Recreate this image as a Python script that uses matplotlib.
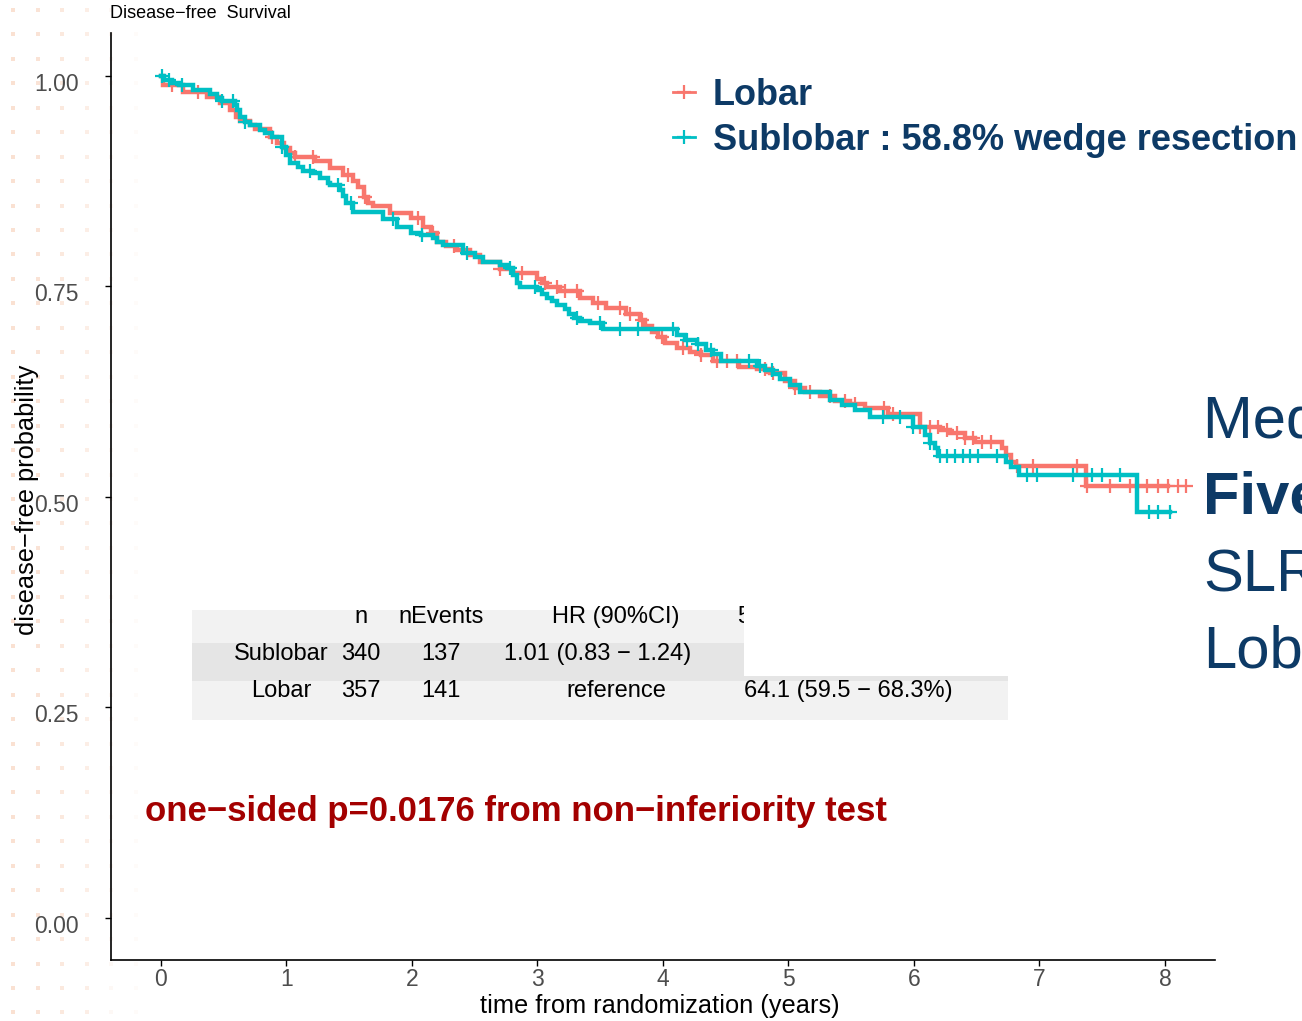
import numpy as np
import matplotlib.pyplot as plt
from matplotlib.lines import Line2D
from matplotlib.patches import Rectangle
from matplotlib.transforms import ScaledTranslation

plt.rcParams['font.family'] = ['Liberation Sans', 'DejaVu Sans']

# Kaplan-Meier steps: time (years) and survival after each drop
lobar_t = [0, 0.02, 0.18, 0.37, 0.47, 0.55, 0.60, 0.63, 0.71, 0.75, 0.87, 0.93, 0.98,
           1.03, 1.07, 1.23, 1.35, 1.45, 1.53, 1.57, 1.62, 1.65, 1.69, 1.83, 1.99,
           2.09, 2.15, 2.20, 2.27, 2.36, 2.46, 2.54, 2.70, 2.81, 3.00, 3.04, 3.08,
           3.18, 3.34, 3.44, 3.55, 3.71, 3.82, 3.86, 3.91, 3.96, 4.02, 4.11, 4.22,
           4.30, 4.40, 4.61, 4.75, 4.85, 4.97, 5.05, 5.13, 5.25, 5.37, 5.49, 5.61,
           5.79, 6.05, 6.21, 6.29, 6.41, 6.49, 6.70, 6.73, 6.77, 6.81, 7.37]
lobar_s = [1.0, 0.989, 0.981, 0.975, 0.968, 0.960, 0.951, 0.947, 0.942, 0.937, 0.928,
           0.920, 0.914, 0.909, 0.904, 0.899, 0.891, 0.882, 0.875, 0.868, 0.856, 0.849,
           0.846, 0.837, 0.831, 0.821, 0.813, 0.803, 0.798, 0.793, 0.787, 0.779, 0.771,
           0.766, 0.759, 0.754, 0.749, 0.745, 0.736, 0.730, 0.724, 0.717, 0.710, 0.703,
           0.696, 0.690, 0.683, 0.677, 0.672, 0.669, 0.662, 0.654, 0.652, 0.647, 0.638,
           0.629, 0.625, 0.620, 0.614, 0.610, 0.606, 0.599, 0.583, 0.580, 0.576, 0.570,
           0.565, 0.558, 0.550, 0.542, 0.537, 0.513]
lobar_cens = [0.09, 0.30, 0.89, 1.07, 1.21, 1.49, 1.63, 2.05, 2.17, 2.34, 2.70, 2.88,
              3.06, 3.16, 3.22, 3.32, 3.48, 3.66, 3.74, 3.83, 3.99, 4.16, 4.30, 4.43,
              4.51, 4.59, 4.81, 4.88, 5.05, 5.17, 5.33, 5.45, 5.53, 5.76, 5.83, 6.05,
              6.13, 6.19, 6.26, 6.34, 6.41, 6.47, 6.54, 6.61, 6.82, 6.95, 7.30, 7.38,
              7.56, 7.72, 7.86, 7.94, 8.02, 8.10, 8.17]
lobar_end = 8.02

sub_t = [0, 0.03, 0.09, 0.15, 0.26, 0.39, 0.45, 0.49, 0.59, 0.61, 0.63, 0.67, 0.71,
         0.79, 0.83, 0.89, 0.97, 1.00, 1.03, 1.09, 1.13, 1.21, 1.27, 1.33, 1.35, 1.43,
         1.45, 1.48, 1.53, 1.77, 1.88, 1.99, 2.07, 2.17, 2.20, 2.25, 2.41, 2.50, 2.57,
         2.70, 2.76, 2.81, 2.84, 2.86, 3.00, 3.04, 3.08, 3.12, 3.16, 3.22, 3.25, 3.29,
         3.34, 3.42, 3.52, 4.11, 4.18, 4.27, 4.34, 4.40, 4.46, 4.75, 4.81, 4.88, 4.93,
         5.01, 5.09, 5.33, 5.43, 5.53, 5.65, 5.99, 6.09, 6.13, 6.17, 6.19, 6.73, 6.77,
         6.84, 7.78]
sub_s = [1.0, 0.995, 0.992, 0.989, 0.983, 0.979, 0.974, 0.970, 0.966, 0.960, 0.951,
         0.945, 0.942, 0.936, 0.932, 0.928, 0.916, 0.906, 0.897, 0.892, 0.887, 0.885,
         0.879, 0.873, 0.871, 0.865, 0.857, 0.849, 0.838, 0.830, 0.821, 0.814, 0.811,
         0.808, 0.803, 0.799, 0.790, 0.785, 0.779, 0.776, 0.772, 0.764, 0.754, 0.749,
         0.746, 0.741, 0.736, 0.733, 0.728, 0.723, 0.717, 0.713, 0.709, 0.707, 0.700,
         0.692, 0.686, 0.682, 0.675, 0.670, 0.662, 0.656, 0.651, 0.646, 0.640, 0.633,
         0.625, 0.615, 0.609, 0.603, 0.595, 0.583, 0.574, 0.564, 0.558, 0.549, 0.542,
         0.536, 0.526, 0.482]
sub_cens = [0.01, 0.07, 0.17, 0.49, 0.58, 0.67, 0.97, 1.19, 1.41, 1.52, 1.85, 2.08,
            2.44, 2.78, 2.98, 3.32, 3.50, 3.66, 3.80, 4.08, 4.19, 4.28, 4.38, 4.69,
            4.77, 4.87, 5.75, 5.89, 5.99, 6.13, 6.21, 6.26, 6.33, 6.39, 6.45, 6.51,
            6.66, 6.90, 6.98, 7.27, 7.42, 7.50, 7.64, 7.87, 7.94, 8.04]
sub_end = 8.04

groups = ['Lobar', 'Sublobar : 58.8% wedge resection']
colors = ['#F8766D', '#00BFC4']

tab_header = ['', 'n', 'nEvents', 'HR (90%CI)', '5\u2212year DFS (95%CI)']
tab_rows = [['Sublobar', '340', '137', '1.01 (0.83 \u2212 1.24)', ''],
            ['Lobar', '357', '141', 'reference', '64.1 (59.5 \u2212 68.3%)']]

side_lines = ['Median follow-up', 'Five-year DFS', 'SLR', 'Lobar']

navy = '#0d3a66'

fig = plt.figure(figsize=(13.02, 10.21), dpi=100)

# faint dotted backdrop on the left margin
bg = fig.add_axes([0, 0, 1, 1], zorder=0)
bg.set_xlim(0, 1302)
bg.set_ylim(1021, 0)
bg.axis('off')
col_x = np.arange(13, 140, 24.6)
row_y = np.arange(10, 1021, 24.45)
col_alpha = [0.55, 0.5, 0.4, 0.3, 0.12, 0.07]
for cx, a in zip(col_x, col_alpha):
    bg.scatter(np.full(len(row_y), cx), row_y, s=8, marker='s', color='#f6c9ae',
               alpha=a, linewidths=0)

ax = fig.add_axes([110.7 / 1302, 61 / 1021, (1215 - 110.7) / 1302, (960 - 33) / 1021],
                  zorder=1)
ax.patch.set_alpha(0)


def surv_at(t, s, x):
    idx = np.searchsorted(t, x, side='right') - 1
    return np.asarray(s)[idx]


for t, s, cens, end, col in [(lobar_t, lobar_s, lobar_cens, lobar_end, colors[0]),
                             (sub_t, sub_s, sub_cens, sub_end, colors[1])]:
    tt = np.r_[t, end]
    ss = np.r_[s, s[-1]]
    ax.step(tt, ss, where='post', color=col, lw=3.2, solid_joinstyle='miter')
    ax.plot(cens, surv_at(t, s, cens), ls='none', marker='+', ms=10, mew=1.6, color=col)

ax.set_xlim(-0.398, 8.398)
ax.set_ylim(-0.0499, 1.051)
ax.set_xticks(range(9))
ax.set_yticks([0, 0.25, 0.5, 0.75, 1.0])
ax.set_yticklabels(['0.00', '0.25', '0.50', '0.75', '1.00'])
for sp in ['top', 'right']:
    ax.spines[sp].set_visible(False)
for sp in ['left', 'bottom']:
    ax.spines[sp].set_linewidth(1.2)
ax.tick_params(axis='y', length=4, width=1, pad=19, labelsize=16.5, labelcolor='#4d4d4d')
ax.tick_params(axis='x', length=4, width=1, pad=2, labelsize=16.5, labelcolor='#4d4d4d')
shift = ScaledTranslation(0, -6 / 100, fig.dpi_scale_trans)
for lab in ax.get_yticklabels():
    lab.set_transform(lab.get_transform() + shift)

handles = [Line2D([], [], color=c, lw=2, marker='+', ms=10, mew=1.6) for c in colors]
leg = ax.legend(handles, groups, loc='upper left', bbox_to_anchor=(673 / 1302, 1 - 78 / 1021),
                bbox_transform=fig.transFigure, frameon=False,
                prop={'weight': 'bold', 'size': 26}, handlelength=0.6,
                handletextpad=0.5, labelspacing=0.27, borderpad=0, borderaxespad=0)
for txt in leg.get_texts():
    txt.set_color(navy)

# overlay in pixel coordinates for the texts and the table
ov = fig.add_axes([0, 0, 1, 1], zorder=2)
ov.set_xlim(0, 1302)
ov.set_ylim(1021, 0)
ov.axis('off')

ov.text(110, 14, 'Disease\u2212free  Survival', fontsize=13, va='center', ha='left')
ov.text(27, 500, 'disease\u2212free probability', fontsize=18.3, rotation=90,
        va='center', ha='center')
ov.text(660, 1006, 'time from randomization (years)', fontsize=18.3,
        va='center', ha='center')

# summary table
band_y = [610, 643, 681, 720]
band_c = ['#f2f2f2', '#e5e5e5', '#f2f2f2']
for i, c in enumerate(band_c):
    ov.add_patch(Rectangle((192, band_y[i]), 1008 - 192, band_y[i + 1] - band_y[i],
                           facecolor=c, edgecolor='none'))
col_cx = [281, 361, 441, 616, 848]
row_cy = [617, 654, 691]
cell_dx = {(1, 3): -18}
for j, h in enumerate(tab_header):
    ov.text(col_cx[j], row_cy[0], h, fontsize=17, ha='center', va='center')
for i, row in enumerate(tab_rows):
    for j, v in enumerate(row):
        ov.text(col_cx[j] + cell_dx.get((i + 1, j), 0), row_cy[i + 1], v, fontsize=17,
                ha='center', va='center')
ov.add_patch(Rectangle((744, 605), 1008 - 744, 676 - 605, facecolor='white',
                       edgecolor='none', zorder=5))

ov.text(145, 811, 'one\u2212sided p=0.0176 from non\u2212inferiority test', fontsize=25,
        fontweight='bold', color='#a30000', ha='left', va='center')

side_base = [438, 514, 591, 667]
for k, (line, yb) in enumerate(zip(side_lines, side_base)):
    ov.text(1203, yb, line, fontsize=43, color=navy, ha='left', va='baseline',
            fontweight='bold' if k == 1 else 'normal')

fig.savefig('out.png', dpi=100)
